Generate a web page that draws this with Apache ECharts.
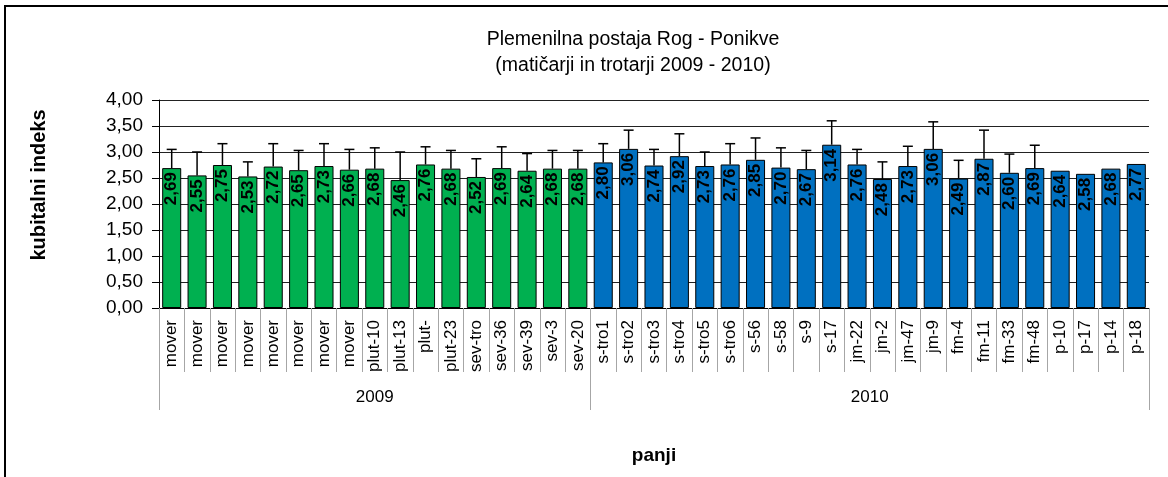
<!DOCTYPE html>
<html>
<head>
<meta charset="utf-8">
<script src="https://cdn.jsdelivr.net/npm/echarts@6/dist/echarts.min.js"></script>
<style>
html,body{margin:0;padding:0;background:#fff;}
#chart{width:1168px;height:477px;}
</style>
</head>
<body>
<div id="chart"></div>
<script>
// ---- data ----
var cats2009 = ['mover','mover','mover','mover','mover','mover','mover','mover','plut-10','plut-13','plut-','plut-23','sev-tro','sev-36','sev-39','sev-3','sev-20'];
var cats2010 = ['s-tro1','s-tro2','s-tro3','s-tro4','s-tro5','s-tro6','s-56','s-58','s-9','s-17','jm-22','jm-2','jm-47','jm-9','fm-4','fm-11','fm-33','fm-48','p-10','p-17','p-14','p-18'];
var vals2009 = [2.69,2.55,2.75,2.53,2.72,2.65,2.73,2.66,2.68,2.46,2.76,2.68,2.52,2.69,2.64,2.68,2.68];
var vals2010 = [2.80,3.06,2.74,2.92,2.73,2.76,2.85,2.70,2.67,3.14,2.76,2.48,2.73,3.06,2.49,2.87,2.60,2.69,2.64,2.58,2.68,2.77];
// upper end of error bars (null = no error bar)
var errTop2009 = [3.05,3.00,3.16,2.81,3.16,3.03,3.16,3.05,3.08,3.00,3.10,3.03,2.87,3.10,2.97,3.03,3.03];
var errTop2010 = [3.16,3.42,3.05,3.35,3.00,3.16,3.27,3.08,3.03,3.60,3.05,2.81,3.11,3.58,2.84,3.42,2.96,3.13,null,null,null,null];
var years = ['2009','2010'];
var yTicks = [0,0.5,1,1.5,2,2.5,3,3.5,4];

var titleText = 'Plemenilna postaja Rog - Ponikve\n(matičarji in trotarji 2009 - 2010)';
var yName = 'kubitalni indeks';
var xName = 'panji';

// ---- build ----
var FONT = '"Liberation Sans", Arial, sans-serif';
var GREEN = '#00B050', BLUE = '#0070C0';
var cats = cats2009.concat(cats2010);
var vals = vals2009.concat(vals2010);
var errTop = errTop2009.concat(errTop2010);
var n2009 = cats2009.length, nAll = cats.length;

var barData = vals.map(function (v, i) {
  return { value: v, itemStyle: { color: i < n2009 ? GREEN : BLUE } };
});
var errData = [];
errTop.forEach(function (e, i) { if (e != null) errData.push([i, vals[i], e]); });

function fmt(v) { return v.toFixed(2).replace('.', ','); }

var chart = echarts.init(document.getElementById('chart'), null, { renderer: 'canvas' });
chart.setOption({
  backgroundColor: '#fff',
  animation: false,
  textStyle: { fontFamily: FONT },
  graphic: [{
    type: 'rect', silent: true, z: 100,
    shape: { x: 5, y: 6, width: 1400, height: 700 },
    style: { fill: 'none', stroke: '#000', lineWidth: 2 }
  }],
  title: {
    text: titleText,
    left: 628, top: 22, textAlign: 'center',
    textStyle: { fontFamily: FONT, fontSize: 19.5, fontWeight: 'normal', color: '#000', lineHeight: 26 }
  },
  grid: { left: 159, right: 19, top: 100, bottom: 169, containLabel: false },
  xAxis: [{
    type: 'category', data: cats, position: 'bottom',
    axisLine: { show: true, onZero: false, lineStyle: { color: '#000', width: 1 } },
    axisTick: { show: true, interval: 0, length: 64, alignWithLabel: false, lineStyle: { color: '#a6a6a6', width: 1 } },
    axisLabel: { interval: 0, rotate: 90, margin: 12, fontSize: 17, color: '#000', fontFamily: FONT },
    name: xName, nameLocation: 'middle', nameGap: 138,
    nameTextStyle: { fontFamily: FONT, fontSize: 19, fontWeight: 'bold', color: '#000' }
  }, {
    type: 'value', min: 0, max: nAll, position: 'bottom',
    axisLine: { show: false, onZero: false },
    splitLine: { show: false },
    axisTick: { show: true, customValues: [0, n2009, nAll], length: 102, lineStyle: { color: '#a6a6a6', width: 1 } },
    axisLabel: {
      customValues: [n2009 / 2, n2009 + (nAll - n2009) / 2],
      formatter: function (v) { return v < n2009 ? years[0] : years[1]; },
      margin: 81, fontSize: 17, color: '#000', fontFamily: FONT
    }
  }],
  yAxis: {
    type: 'value', min: yTicks[0], max: yTicks[yTicks.length - 1], interval: 0.5,
    axisLine: { show: true, onZero: false, lineStyle: { color: '#000', width: 1 } },
    axisTick: { show: true, length: 7, lineStyle: { color: '#000' } },
    splitLine: { show: true, lineStyle: { color: '#222', width: 1 } },
    axisLabel: { formatter: fmt, fontSize: 19, margin: 16, color: '#000', fontFamily: FONT },
    name: yName, nameLocation: 'middle', nameGap: 110, nameRotate: 90,
    nameTextStyle: { fontFamily: FONT, fontSize: 20, fontWeight: 'bold', color: '#000', padding: [0, 0, 0, 38] }
  },
  series: [{
    type: 'bar', xAxisIndex: 0, data: barData, barWidth: '75%',
    itemStyle: { borderColor: '#000', borderWidth: 1 },
    label: {
      show: true, position: 'insideTop', rotate: 90, align: 'right', verticalAlign: 'middle', distance: 4,
      formatter: function (p) { return fmt(p.value); },
      fontFamily: FONT, fontSize: 17, fontWeight: 'bold', color: '#000'
    },
    z: 2
  }, {
    type: 'custom', xAxisIndex: 0, data: errData, z: 3,
    renderItem: function (params, api) {
      var base = api.coord([api.value(0), api.value(1)]);
      var top = api.coord([api.value(0), api.value(2)]);
      var hw = 5;
      return {
        type: 'group', children: [
          { type: 'line', shape: { x1: base[0], y1: base[1], x2: top[0], y2: top[1] }, style: { stroke: '#000', lineWidth: 1.5 } },
          { type: 'line', shape: { x1: top[0] - hw, y1: top[1], x2: top[0] + hw, y2: top[1] }, style: { stroke: '#000', lineWidth: 1.5 } }
        ]
      };
    }
  }]
});
</script>
</body>
</html>
